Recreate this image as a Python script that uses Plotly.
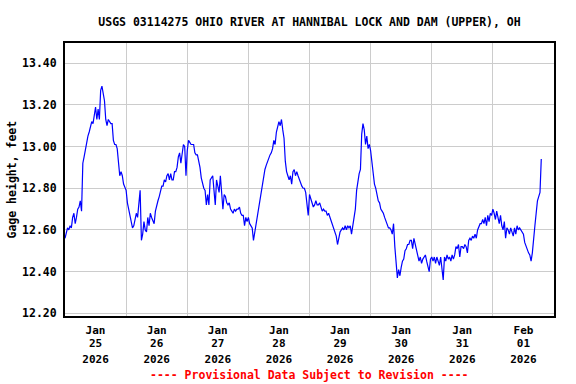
import pandas as pd
import plotly.graph_objects as go

# 30-minute gage height readings (feet), starting 2026-01-25 00:00
day1 = [12.56, 12.59, 12.61, 12.60, 12.62, 12.61, 12.66, 12.68, 12.63, 12.66, 12.70, 12.71,
        12.74, 12.69, 12.92, 12.95, 12.99, 13.03, 13.05, 13.07, 13.10, 13.12, 13.11, 13.16,
        13.19, 13.13, 13.18, 13.13, 13.27, 13.29, 13.25, 13.22, 13.13, 13.10, 13.13, 13.12,
        13.11, 13.11, 13.03, 13.01, 13.01, 12.99, 12.93, 12.86, 12.88, 12.86, 12.82, 12.80]
day2 = [12.79, 12.73, 12.70, 12.67, 12.64, 12.61, 12.62, 12.66, 12.68, 12.66, 12.74, 12.79,
        12.55, 12.58, 12.64, 12.60, 12.59, 12.66, 12.62, 12.68, 12.66, 12.64, 12.63, 12.69,
        12.72, 12.74, 12.76, 12.78, 12.81, 12.81, 12.84, 12.83, 12.86, 12.87, 12.84, 12.87,
        12.84, 12.84, 12.88, 12.88, 12.90, 12.95, 12.97, 12.92, 12.98, 13.01, 13.00, 12.86]
day3 = [12.98, 13.03, 13.02, 13.01, 13.01, 13.01, 12.97, 12.96, 12.96, 12.93, 12.90, 12.85,
        12.82, 12.80, 12.79, 12.72, 12.77, 12.72, 12.84, 12.85, 12.86, 12.79, 12.72, 12.84,
        12.80, 12.78, 12.86, 12.78, 12.70, 12.77, 12.76, 12.73, 12.72, 12.73, 12.70, 12.69,
        12.68, 12.70, 12.69, 12.70, 12.70, 12.71, 12.68, 12.67, 12.67, 12.62, 12.66, 12.64]
day4 = [12.66, 12.63, 12.62, 12.61, 12.55, 12.59, 12.63, 12.66, 12.70, 12.74, 12.79, 12.82,
        12.87, 12.89, 12.91, 12.93, 12.94, 12.96, 12.97, 12.99, 13.03, 13.01, 13.07, 13.09,
        13.12, 13.10, 13.13, 13.08, 13.04, 12.93, 12.88, 12.86, 12.84, 12.86, 12.82, 12.88,
        12.89, 12.86, 12.88, 12.86, 12.84, 12.82, 12.81, 12.80, 12.80, 12.78, 12.72, 12.67]
day5 = [12.77, 12.75, 12.73, 12.71, 12.72, 12.74, 12.72, 12.72, 12.73, 12.71, 12.69, 12.70,
        12.69, 12.69, 12.67, 12.68, 12.66, 12.64, 12.62, 12.61, 12.58, 12.57, 12.53, 12.57,
        12.59, 12.60, 12.61, 12.60, 12.62, 12.60, 12.62, 12.61, 12.62, 12.58, 12.62, 12.66,
        12.70, 12.79, 12.84, 12.87, 12.89, 13.06, 13.11, 13.08, 13.01, 13.05, 12.99, 13.01]
day6 = [12.98, 12.92, 12.87, 12.82, 12.80, 12.77, 12.74, 12.73, 12.70, 12.69, 12.68, 12.66,
        12.64, 12.63, 12.61, 12.61, 12.60, 12.58, 12.63, 12.52, 12.43, 12.37, 12.41, 12.38,
        12.42, 12.45, 12.46, 12.50, 12.51, 12.53, 12.53, 12.55, 12.55, 12.51, 12.56, 12.53,
        12.50, 12.47, 12.45, 12.47, 12.44, 12.46, 12.47, 12.48, 12.45, 12.43, 12.40, 12.46]
day7 = [12.47, 12.45, 12.47, 12.44, 12.47, 12.45, 12.43, 12.47, 12.42, 12.36, 12.47, 12.45,
        12.48, 12.46, 12.47, 12.45, 12.48, 12.46, 12.48, 12.52, 12.51, 12.53, 12.47, 12.52,
        12.52, 12.51, 12.53, 12.52, 12.49, 12.55, 12.56, 12.55, 12.57, 12.56, 12.58, 12.56,
        12.60, 12.62, 12.63, 12.63, 12.65, 12.63, 12.66, 12.62, 12.67, 12.64, 12.68, 12.67]
day8 = [12.70, 12.68, 12.65, 12.69, 12.66, 12.63, 12.67, 12.62, 12.60, 12.64, 12.56, 12.61,
        12.60, 12.58, 12.61, 12.59, 12.57, 12.61, 12.58, 12.62, 12.60, 12.61, 12.60, 12.59,
        12.58, 12.54, 12.52, 12.50, 12.49, 12.48, 12.45, 12.49, 12.57, 12.62, 12.68, 12.74,
        12.76, 12.78, 12.94]

stage = day1 + day2 + day3 + day4 + day5 + day6 + day7 + day8
times = pd.date_range("2026-01-25 00:00", periods=len(stage), freq="30min")

month_labels = ["Jan", "Jan", "Jan", "Jan", "Jan", "Jan", "Jan", "Feb"]
day_labels = ["25", "26", "27", "28", "29", "30", "31", "01"]
year_labels = ["2026"] * 8
label_pos = pd.date_range("2026-01-25 12:00", periods=8, freq="1D")
grid_pos = pd.date_range("2026-01-26 00:00", periods=7, freq="1D")
y_ticks = [12.2, 12.4, 12.6, 12.8, 13.0, 13.2, 13.4]

FONT = "DejaVu Sans Mono"
fs = 11.5
XRANGE = ["2026-01-25 00:00", "2026-02-02 00:00"]
tfont = dict(family=FONT, size=fs, color="black", weight="bold")
xfont = dict(family=FONT, size=11, color="black", weight="bold")

fig = go.Figure()
fig.add_trace(go.Scatter(x=times, y=stage, mode="lines",
                         line=dict(color="#0000FF", width=1.2), hoverinfo="skip"))
# invisible anchors so the extra label axes are drawn
for ax in ("x2", "x3"):
    fig.add_trace(go.Scatter(x=times[:1], y=stage[:1], xaxis=ax, yaxis="y", mode="markers",
                             marker=dict(opacity=0), hoverinfo="skip"))

fig.update_layout(
    width=576, height=384,
    margin=dict(l=65, r=22, t=43, b=68),
    paper_bgcolor="white", plot_bgcolor="white",
    showlegend=False,
    title=dict(text="USGS 03114275 OHIO RIVER AT HANNIBAL LOCK AND DAM (UPPER), OH",
               x=0.5, xref="paper", xanchor="center", y=1 - 22 / 384, yanchor="middle",
               font=tfont),
    font=dict(family=FONT, size=fs, color="black"),
    xaxis=dict(
        type="date", range=XRANGE,
        tickmode="array", tickvals=label_pos, ticktext=month_labels,
        tickfont=xfont, showgrid=False, ticks="", ticklabelstandoff=3,
        minor=dict(tickmode="array", tickvals=grid_pos, showgrid=True,
                   gridcolor="#CCCCCC", gridwidth=1, ticks=""),
        showline=True, linecolor="black", linewidth=2, mirror=True, zeroline=False,
    ),
    xaxis2=dict(
        type="date", range=XRANGE, overlaying="x", anchor="y", side="bottom",
        tickmode="array", tickvals=label_pos, ticktext=day_labels,
        tickfont=xfont, showgrid=False, ticks="", ticklabelstandoff=19,
        showline=False, zeroline=False,
    ),
    xaxis3=dict(
        type="date", range=XRANGE, overlaying="x", anchor="y", side="bottom",
        tickmode="array", tickvals=label_pos, ticktext=year_labels,
        tickfont=xfont, showgrid=False, ticks="", ticklabelstandoff=35,
        showline=False, zeroline=False,
    ),
    yaxis=dict(
        range=[12.187, 13.497], tickmode="array", tickvals=y_ticks, tickformat=".2f",
        tickfont=tfont, showgrid=True, gridcolor="#CCCCCC", gridwidth=1,
        ticks="", ticklabelstandoff=4,
        showline=True, linecolor="black", linewidth=2, mirror=True, zeroline=False,
    ),
)

fig.add_annotation(text="Gage height, feet", xref="paper", yref="paper",
                   x=(11 - 65) / 489, y=0.5, xanchor="center", yanchor="middle",
                   textangle=-90, showarrow=False, font=tfont)
fig.add_annotation(text="---- Provisional Data Subject to Revision ----",
                   xref="paper", yref="paper", x=0.5, y=-(375 - 316) / 273,
                   xanchor="center", yanchor="middle", showarrow=False,
                   font=dict(family=FONT, size=fs, color="#FF0000", weight="bold"))

fig.write_html("out.html", config={"displayModeBar": False, "staticPlot": True},
               post_script="document.body.style.margin='0';")
